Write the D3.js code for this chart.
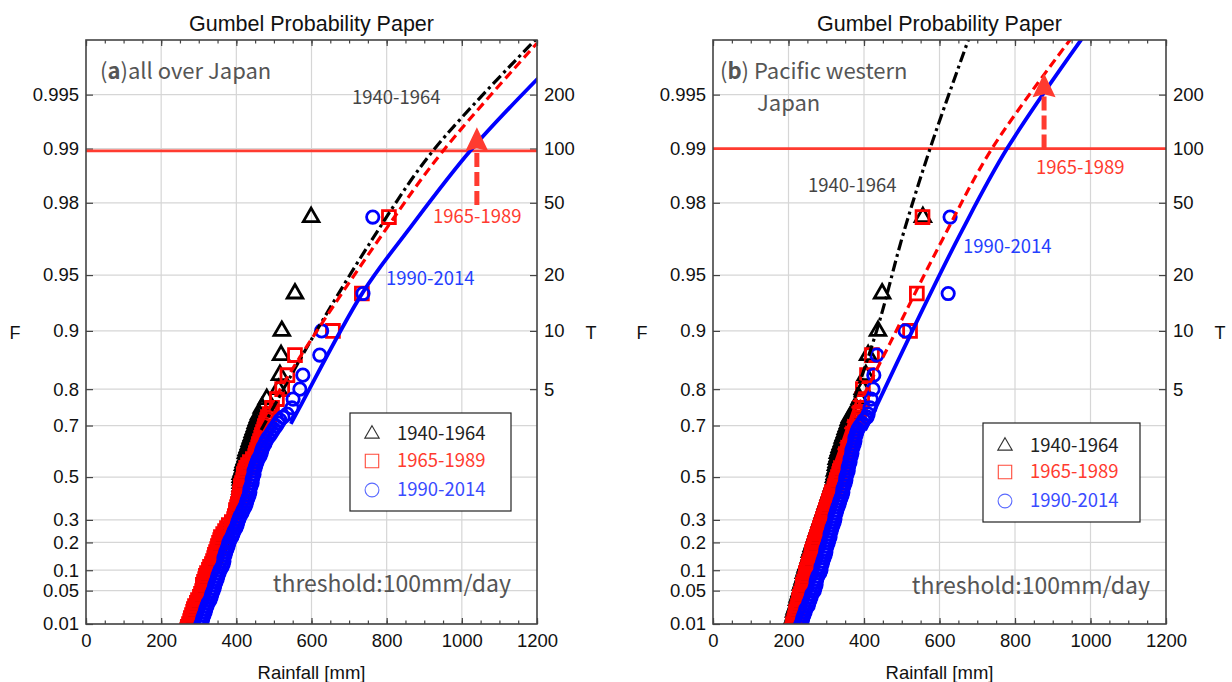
<!DOCTYPE html>
<html>
<head>
<meta charset="utf-8">
<script src="https://cdn.jsdelivr.net/npm/d3@7"></script>
<style>
  body { margin: 0; background: #fff; }
  svg { display: block; }
</style>
</head>
<body>
<svg id="chart" width="1232" height="682"></svg>
<script>
// plotting positions F (non-exceedance probability), shared by every period
const probs = [0.976, 0.937, 0.900, 0.866, 0.830, 0.800, 0.776, 0.753, 0.735,
  0.726, 0.717, 0.708, 0.698, 0.688, 0.678, 0.668, 0.658, 0.647, 0.636,
  0.624, 0.613, 0.601, 0.589, 0.577, 0.565, 0.552, 0.540, 0.527, 0.513,
  0.500, 0.487, 0.473, 0.459, 0.445, 0.431, 0.417, 0.403, 0.389, 0.375,
  0.361, 0.346, 0.332, 0.318, 0.304, 0.290, 0.276, 0.263, 0.249, 0.236,
  0.223, 0.210, 0.198, 0.185, 0.173, 0.162, 0.151, 0.140, 0.129, 0.119,
  0.110, 0.101, 0.092, 0.084, 0.076, 0.069, 0.062, 0.055, 0.049, 0.044,
  0.039, 0.034, 0.030, 0.026, 0.0225, 0.0194, 0.0166, 0.0141, 0.0119, 0.0100,
  0.0084, 0.0069];

// (a) all over Japan, rainfall [mm] for each plotting position
const rainA1940 = [599, 556, 521, 519, 516, 512, 481, 468, 461,
  458, 455, 452, 450, 447, 444, 442, 439, 436, 434,
  431, 428, 426, 426, 423, 420, 418, 418, 415, 412,
  412, 412, 412, 412, 411, 410, 409, 407, 407, 404,
  402, 399, 399, 396, 394, 388, 380, 375, 370, 365,
  359, 357, 354, 351, 349, 346, 343, 341, 338, 335,
  330, 327, 322, 319, 317, 314, 311, 311, 309, 306,
  303, 298, 295, 290, 287, 285, 282, 279, 277, 274,
  271, 269];
const rainA1965 = [806, 734, 657, 556, 536, 522, 508, 495, 489,
  484, 482, 479, 476, 474, 471, 468, 466, 463, 460,
  458, 455, 452, 450, 444, 436, 431, 426, 423, 420,
  420, 418, 415, 412, 412, 410, 410, 407, 407, 404,
  402, 399, 399, 396, 394, 388, 380, 375, 370, 365,
  359, 357, 354, 351, 349, 346, 343, 341, 338, 335,
  330, 327, 322, 319, 317, 314, 311, 311, 309, 306,
  303, 298, 295, 290, 287, 285, 282, 279, 277, 274,
  271, 269];
const rainA1990 = [763, 737, 627, 622, 577, 569, 551, 548, 535,
  524, 516, 511, 506, 500, 495, 490, 484, 479, 476,
  471, 468, 466, 463, 458, 455, 452, 450, 447, 447,
  444, 442, 442, 439, 436, 436, 434, 431, 428, 426,
  423, 418, 415, 410, 407, 404, 402, 399, 394, 391,
  388, 383, 380, 378, 375, 372, 370, 367, 367, 365,
  362, 357, 354, 351, 349, 346, 343, 341, 338, 335,
  333, 330, 325, 322, 319, 317, 314, 311, 309, 306,
  303, 301];

// (b) Pacific western Japan
const rainB1940 = [556, 448, 437, 411, 405, 397, 389, 378, 370,
  363, 360, 358, 355, 352, 350, 347, 344, 342, 339,
  336, 334, 331, 331, 328, 328, 326, 326, 323, 323,
  321, 321, 318, 315, 313, 310, 307, 305, 302, 299,
  297, 294, 291, 289, 286, 283, 281, 278, 275, 273,
  270, 268, 265, 262, 260, 257, 257, 254, 252, 249,
  246, 244, 241, 241, 238, 236, 233, 233, 230, 228,
  225, 223, 223, 220, 217, 215, 215, 212, 209, 207,
  207, 204];
const rainB1965 = [555, 540, 522, 421, 408, 397, 395, 390, 387,
  384, 381, 379, 376, 374, 371, 368, 366, 363, 360,
  358, 355, 352, 350, 347, 344, 342, 339, 336, 334,
  331, 328, 326, 323, 321, 315, 313, 310, 307, 305,
  302, 299, 297, 294, 291, 289, 286, 283, 281, 278,
  275, 273, 270, 268, 265, 262, 262, 260, 257, 254,
  252, 249, 246, 246, 244, 241, 238, 238, 236, 233,
  230, 228, 228, 225, 223, 220, 220, 217, 215, 212,
  212, 209];
const rainB1990 = [628, 623, 509, 434, 426, 424, 419, 416, 411,
  408, 400, 395, 389, 384, 381, 379, 376, 376, 374,
  371, 368, 368, 366, 363, 363, 360, 358, 358, 355,
  352, 352, 350, 347, 344, 344, 342, 339, 336, 334,
  331, 328, 326, 323, 323, 321, 318, 315, 313, 310,
  310, 307, 305, 302, 299, 299, 297, 294, 291, 289,
  286, 286, 283, 278, 275, 273, 273, 270, 268, 262,
  260, 257, 254, 252, 246, 244, 241, 238, 236, 233,
  230, 228];

// fitted curves [rainfall, F]
const fitA1940 = [[466, 0.685], [591, 0.881], [761, 0.968], [923, 0.9897], [1200, 0.99758]];
const fitA1965 = [[468, 0.717], [569, 0.8626], [796, 0.9716], [950, 0.9897], [1200, 0.99742]];
const fitA1990 = [[545, 0.705], [569, 0.7547], [737, 0.9381], [857, 0.9716], [1022, 0.9897], [1203, 0.99595]];
const fitB1940 = [[318, 0.573], [434, 0.9009], [503, 0.9698], [575, 0.990], [678, 0.99758]];
const fitB1965 = [[366, 0.717], [469, 0.884], [607, 0.9678], [739, 0.990], [951, 0.99761]];
const fitB1990 = [[403, 0.685], [548, 0.9176], [660, 0.9716], [779, 0.990], [980, 0.99761]];

// return level line and arrow (rainfall, F from, F to)
const levelA = 0.9897, levelB = 0.990;
const arrowA = [1040, 0.9794, 0.9924];
const arrowB = [877, 0.990, 0.9962];

const periods = ["1940-1964", "1965-1989", "1990-2014"];
const fTicks = [0.01, 0.05, 0.1, 0.2, 0.3, 0.5, 0.7, 0.8, 0.9, 0.95, 0.98, 0.99, 0.995];
const fLabels = ["0.01", "0.05", "0.1", "0.2", "0.3", "0.5", "0.7", "0.8", "0.9", "0.95", "0.98", "0.99", "0.995"];
const tTicks = [5, 10, 20, 50, 100, 200];
const xTicks = [0, 200, 400, 600, 800, 1000, 1200];

const gumbel = F => -Math.log(-Math.log(F));

const sans = "'Liberation Sans', Arial, sans-serif";
const jp = "'Noto Sans CJK JP', sans-serif";
const colors = ["#000000", "#ff0000", "#0000ff"];
const labelColors = ["#444444", "#ff3b30", "#2440ff"];
const legendColors = ["#222222", "#ff3b30", "#3a4cff"];
const plotTop = 40, plotBottom = 624;

const svg = d3.select("#chart");

const symbols = [
  d3.symbol(d3.symbolTriangle, 105)(),
  d3.symbol(d3.symbolSquare, 165)(),
  d3.symbol(d3.symbolCircle, 120)()
];
const legendSymbols = [
  d3.symbol(d3.symbolTriangle, 90)(),
  d3.symbol(d3.symbolSquare, 180)(),
  d3.symbol(d3.symbolCircle, 150)()
];

function styleAxis(sel) {
  sel.select(".domain").remove();
  sel.selectAll(".tick line").attr("stroke", "#444").attr("stroke-width", 1.2);
  sel.selectAll(".tick text").attr("font-family", sans).attr("font-size", 18.5).attr("fill", "#111");
}

function drawPanel(p) {
  const x = d3.scaleLinear().domain([0, 1200]).range([p.left, p.right]);
  const y = d3.scaleLinear().domain([gumbel(0.01), 6]).range([plotBottom, plotTop]);
  const g = svg.append("g");

  svg.append("clipPath").attr("id", "clip" + p.id)
    .append("rect")
    .attr("x", p.left).attr("y", plotTop)
    .attr("width", p.right - p.left).attr("height", plotBottom - plotTop);

  // grid
  g.append("g").selectAll("line").data(fTicks).join("line")
    .attr("x1", p.left).attr("x2", p.right)
    .attr("y1", d => y(gumbel(d))).attr("y2", d => y(gumbel(d)))
    .attr("stroke", "#d6d6d6").attr("stroke-width", 1.2);
  g.append("g").selectAll("line").data(xTicks.slice(1, -1)).join("line")
    .attr("x1", d => x(d)).attr("x2", d => x(d))
    .attr("y1", plotTop).attr("y2", plotBottom)
    .attr("stroke", "#d6d6d6").attr("stroke-width", 1.2);

  // axes
  g.append("g").attr("transform", `translate(0,${plotBottom})`)
    .call(d3.axisBottom(x).tickValues(xTicks).tickFormat(d3.format("d"))
      .tickSizeInner(-6).tickSizeOuter(0).tickPadding(10))
    .call(styleAxis);
  g.append("g").attr("transform", `translate(0,${plotBottom})`)
    .call(d3.axisBottom(x).tickValues(d3.range(0, 1201, 50)).tickSizeInner(-3.5).tickSizeOuter(0).tickFormat(""))
    .call(styleAxis);
  g.append("g").attr("transform", `translate(0,${plotTop})`)
    .call(d3.axisTop(x).tickValues(xTicks).tickSizeInner(-6).tickSizeOuter(0).tickFormat(""))
    .call(styleAxis);
  g.append("g").attr("transform", `translate(0,${plotTop})`)
    .call(d3.axisTop(x).tickValues(d3.range(0, 1201, 50)).tickSizeInner(-3.5).tickSizeOuter(0).tickFormat(""))
    .call(styleAxis);
  g.append("g").attr("transform", `translate(${p.left},0)`)
    .call(d3.axisLeft(y).tickValues(fTicks.map(gumbel)).tickFormat((d, i) => fLabels[i])
      .tickSizeInner(-7).tickSizeOuter(0).tickPadding(7))
    .call(styleAxis);
  g.append("g").attr("transform", `translate(${p.right},0)`)
    .call(d3.axisRight(y).tickValues(tTicks.map(t => gumbel(1 - 1 / t))).tickFormat((d, i) => tTicks[i])
      .tickSizeInner(-7).tickSizeOuter(0).tickPadding(7))
    .call(styleAxis);

  // 100-year level
  g.append("line")
    .attr("x1", p.left).attr("x2", p.right)
    .attr("y1", y(gumbel(p.level))).attr("y2", y(gumbel(p.level)))
    .attr("stroke", "#ff3b30").attr("stroke-width", 2.6);

  // sample points
  const pts = g.append("g").attr("clip-path", `url(#clip${p.id})`);
  p.rain.forEach((rain, s) => {
    pts.append("g").selectAll("path")
      .data(probs.map((F, i) => ({ F: F, r: rain[i] })))
      .join("path")
      .attr("d", symbols[s])
      .attr("transform", d => `translate(${x(d.r)},${y(gumbel(d.F))})`)
      .attr("fill", "none")
      .attr("stroke", colors[s])
      .attr("stroke-width", 2.8);
  });

  // fitted curves
  const line = d3.line()
    .x(d => x(d[0]))
    .y(d => y(gumbel(d[1])))
    .curve(d3.curveCatmullRom.alpha(0.5));
  const dashes = ["11,4,3,4", "9,5", null];
  const widths = [3.2, 3.2, 3.8];
  p.fits.forEach((fit, s) => {
    pts.append("path")
      .attr("d", line(fit))
      .attr("fill", "none")
      .attr("stroke", colors[s])
      .attr("stroke-width", widths[s])
      .attr("stroke-dasharray", dashes[s]);
  });

  // arrow
  const ax = x(p.arrow[0]);
  const ay0 = y(gumbel(p.arrow[1]));
  const tip = y(gumbel(p.arrow[2]));
  g.append("line")
    .attr("x1", ax).attr("x2", ax)
    .attr("y1", ay0).attr("y2", tip + 20)
    .attr("stroke", "#ff3b30").attr("stroke-width", 5)
    .attr("stroke-dasharray", "14,5");
  g.append("path")
    .attr("d", `M${ax},${tip} L${ax + 11.5},${tip + 24} L${ax},${tip + 21} L${ax - 11.5},${tip + 24} Z`)
    .attr("fill", "#ff3b30");

  // frame
  g.append("rect")
    .attr("x", p.left).attr("y", plotTop)
    .attr("width", p.right - p.left).attr("height", plotBottom - plotTop)
    .attr("fill", "none").attr("stroke", "#444").attr("stroke-width", 1.6);

  // titles
  const cx = (p.left + p.right) / 2;
  g.append("text").attr("x", cx).attr("y", 31).attr("text-anchor", "middle")
    .attr("font-family", sans).attr("font-size", 21.5).attr("fill", "#111")
    .text("Gumbel Probability Paper");
  g.append("text").attr("x", cx).attr("y", 679).attr("text-anchor", "middle")
    .attr("font-family", sans).attr("font-size", 18.5).attr("fill", "#111")
    .text("Rainfall [mm]");
  g.append("text").attr("x", p.left - 71).attr("y", 339).attr("text-anchor", "middle")
    .attr("font-family", sans).attr("font-size", 18).attr("fill", "#111").text("F");
  g.append("text").attr("x", p.right + 54).attr("y", 339).attr("text-anchor", "middle")
    .attr("font-family", sans).attr("font-size", 18).attr("fill", "#111").text("T");

  // panel label
  const lab = g.append("text").attr("x", p.left + p.labelDx).attr("y", 79)
    .attr("font-family", jp).attr("font-size", 22).attr("fill", "#555");
  lab.append("tspan").text("(");
  lab.append("tspan").attr("font-weight", "bold").text(p.letter);
  lab.append("tspan").text(p.name[0]);
  if (p.name[1]) {
    g.append("text").attr("x", p.left + 44).attr("y", 111)
      .attr("font-family", jp).attr("font-size", 22).attr("fill", "#555")
      .text(p.name[1]);
  }
  g.append("text").attr("x", p.threshX).attr("y", p.threshY).attr("text-anchor", "end")
    .attr("font-family", jp).attr("font-size", 23).attr("fill", "#555")
    .text("threshold:100mm/day");

  // period labels near the curves
  p.periodPos.forEach((pos, s) => {
    g.append("text").attr("x", pos[0]).attr("y", pos[1])
      .attr("font-family", jp).attr("font-size", 18.5).attr("fill", labelColors[s])
      .text(periods[s]);
  });

  // legend
  const L = p.legend;
  g.append("rect").attr("x", L.x).attr("y", L.y).attr("width", L.w).attr("height", L.h)
    .attr("fill", "#fff").attr("stroke", "#222").attr("stroke-width", 1.2);
  const legStroke = ["#333", "#ff4a3a", "#5a6aff"];
  periods.forEach((name, s) => {
    const ry = L.rows[s];
    g.append("path").attr("d", legendSymbols[s])
      .attr("transform", `translate(${L.x + 22},${ry})`)
      .attr("fill", "none").attr("stroke", legStroke[s]).attr("stroke-width", 1.1);
    g.append("text").attr("x", L.x + 47).attr("y", ry + 6)
      .attr("font-family", jp).attr("font-size", 18.5).attr("fill", legendColors[s])
      .text(name);
  });
}

drawPanel({
  id: "a", left: 86, right: 537, letter: "a", name: [")all over Japan"], labelDx: 14,
  rain: [rainA1940, rainA1965, rainA1990],
  fits: [fitA1940, fitA1965, fitA1990],
  level: levelA, arrow: arrowA, threshX: 511, threshY: 592,
  periodPos: [[352, 104], [433, 223], [386, 285]],
  legend: { x: 350, y: 413, w: 161, h: 98, rows: [434, 461, 490] }
});

drawPanel({
  id: "b", left: 713, right: 1166, letter: "b", name: [") Pacific western", "Japan"], labelDx: 7,
  rain: [rainB1940, rainB1965, rainB1990],
  fits: [fitB1940, fitB1965, fitB1990],
  level: levelB, arrow: arrowB, threshX: 1150, threshY: 594,
  periodPos: [[808, 192], [1036, 174], [963, 253]],
  legend: { x: 983, y: 423, w: 157, h: 99, rows: [446, 472, 501] }
});
</script>
</body>
</html>
